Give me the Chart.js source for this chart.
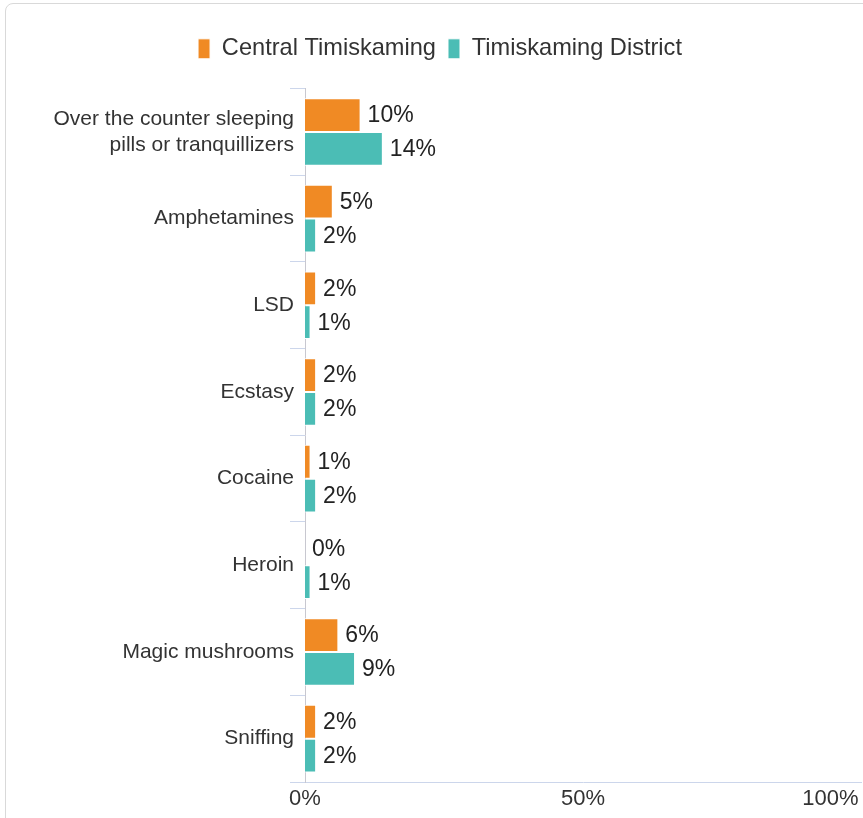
<!DOCTYPE html>
<html>
<head>
<meta charset="utf-8">
<script src="https://cdn.jsdelivr.net/npm/chart.js@4.4.1/dist/chart.umd.min.js"></script>
<style>
  html, body { margin: 0; padding: 0; background: #fff; width: 863px; height: 818px; overflow: hidden; }
  .card { position: absolute; left: 5px; top: 3px; width: 900px; height: 840px; border: 1px solid #d9d9d9; border-radius: 8px; box-sizing: border-box; }
  .wrap { position: absolute; left: 0; top: 0; width: 880px; height: 818px; }
</style>
</head>
<body>
<div class="card"></div>
<div class="wrap"><canvas id="drugChart"></canvas></div>
<script>
const categories = [
    ['Over the counter sleeping', 'pills or tranquillizers'],
    'Amphetamines',
    'LSD',
    'Ecstasy',
    'Cocaine',
    'Heroin',
    'Magic mushrooms',
    'Sniffing'
];
const centralTimiskaming = [10, 5, 2, 2, 1, 0, 6, 2];
const timiskamingDistrict = [14, 2, 1, 2, 2, 1, 9, 2];
const xTicks = [0, 50, 100];

const ORANGE = '#f08a24';
const TEAL = '#4bbdb5';
const AXIS = '#ccd6eb';
const FONT = "'Liberation Sans', Arial, Helvetica, sans-serif";

// draws the value next to the end of each bar
const valueLabels = {
    id: 'valueLabels',
    afterDatasetsDraw(chart) {
        const ctx = chart.ctx;
        ctx.save();
        ctx.font = '23px ' + FONT;
        ctx.fillStyle = '#222';
        ctx.textAlign = 'left';
        ctx.textBaseline = 'middle';
        chart.data.datasets.forEach((ds, i) => {
            chart.getDatasetMeta(i).data.forEach((bar, j) => {
                ctx.fillText(ds.data[j] + '%', bar.x + 7, bar.y + 1);
            });
        });
        ctx.restore();
    }
};

// a bit more room below the legend
const legendGap = {
    id: 'legendGap',
    afterInit(chart) {
        const fit = chart.legend.fit;
        chart.legend.fit = function () {
            fit.call(this);
            this.height += 18;
        };
    }
};

const ctx = document.getElementById('drugChart').getContext('2d');
new Chart(ctx, {
    type: 'bar',
    data: {
        labels: categories,
        datasets: [{
            label: 'Central Timiskaming',
            data: centralTimiskaming,
            backgroundColor: ORANGE,
            borderColor: '#fff',
            borderWidth: 1,
        }, {
            label: 'Timiskaming District',
            data: timiskamingDistrict,
            backgroundColor: TEAL,
            borderColor: '#fff',
            borderWidth: 1,
        }]
    },
    options: {
        indexAxis: 'y',
        responsive: true,
        maintainAspectRatio: false,
        animation: false,
        datasets: {
            bar: { categoryPercentage: 0.78, barPercentage: 1 }
        },
        layout: { padding: { top: 25, right: 0, left: 0, bottom: 0 } },
        scales: {
            x: {
                min: 0,
                max: 100,
                afterBuildTicks: (scale) => {
                    scale.ticks = xTicks.map(v => ({ value: v }));
                },
                afterFit: (scale) => {
                    scale.height = 36;
                    scale.paddingLeft = 0;
                    scale.paddingRight = 19;
                },
                grid: { display: false },
                border: { display: true, color: AXIS, width: 1 },
                ticks: {
                    padding: -4,
                    maxRotation: 0,
                    color: '#333',
                    font: { family: FONT, size: 22 },
                    // last label pulled back inside the frame, like the original
                    callback: (v) => v === 100 ? v + '%' + '\u00a0'.repeat(10) : v + '%',
                },
            },
            y: {
                afterFit: (scale) => {
                    scale.width = 305;
                    scale.paddingTop = 0;
                    scale.paddingBottom = 0;
                },
                grid: {
                    display: true,
                    drawOnChartArea: false,
                    drawTicks: true,
                    tickLength: 15,
                    color: AXIS,
                    offset: true,
                },
                border: { display: true, color: '#c8c8d0', width: 1 },
                ticks: {
                    padding: -4,
                    color: '#333',
                    font: { family: FONT, size: 21, lineHeight: 1.25 },
                },
            },
        },
        plugins: {
            legend: {
                position: 'top',
                labels: {
                    boxWidth: 12,
                    boxHeight: 20,
                    padding: 12,
                    color: '#333',
                    font: { family: FONT, size: 23.6 },
                },
            },
            tooltip: { enabled: false },
        },
    },
    plugins: [valueLabels, legendGap],
});
</script>
</body>
</html>
